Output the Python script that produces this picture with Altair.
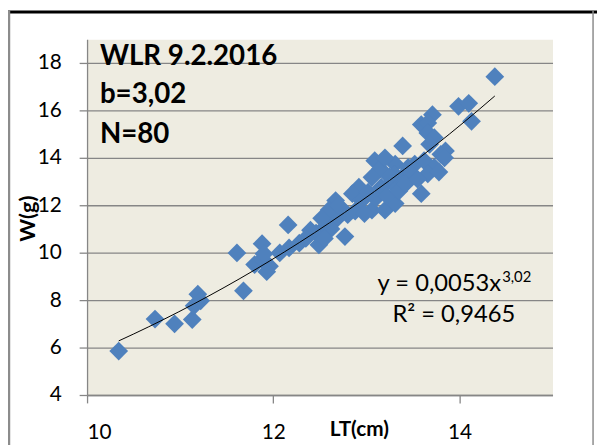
import altair as alt
import pandas as pd

# Data (LT in cm, W in g)
lt = [10.34, 10.73, 10.94, 11.13, 11.19, 11.15, 11.22, 11.61, 11.68, 11.88,
      11.80, 11.88, 11.96, 12.07, 12.16, 12.17, 12.28, 12.49, 12.46, 12.56,
      12.67, 12.74, 12.67, 12.77, 11.93, 13.39, 13.09, 13.15, 13.31, 13.06,
      12.92, 12.85, 12.60, 13.16, 13.27, 13.38, 13.45, 13.06, 13.20, 13.31,
      13.59, 13.59, 14.38, 13.99, 14.10, 14.13, 13.71, 13.66, 13.66, 13.73,
      13.68, 13.85, 13.52, 13.62, 13.73, 13.80, 13.48, 13.66, 13.30, 12.40,
      12.52, 12.62, 12.70, 12.80, 12.88, 12.95, 12.98, 13.02, 13.10, 13.22,
      13.25, 13.35, 13.42, 13.55, 13.78, 13.84, 13.20, 12.35, 12.55, 11.90]
w = [5.85, 7.20, 7.00, 7.18, 8.25, 7.76, 7.97, 9.99, 8.39, 10.38,
     9.50, 9.71, 9.43, 9.99, 11.17, 10.20, 10.40, 10.33, 10.82, 11.10,
     12.20, 11.80, 11.38, 10.68, 9.20, 14.50, 13.88, 13.53, 13.73, 13.18,
     12.76, 12.49, 11.80, 12.76, 12.97, 13.18, 13.60, 11.79, 11.79, 12.07,
     12.49, 15.40, 17.42, 16.17, 16.30, 15.54, 15.82, 15.47, 15.05, 14.85,
     14.57, 14.29, 13.73, 13.88, 13.60, 14.15, 13.32, 13.32, 13.30, 10.95,
     11.45, 11.00, 12.00, 11.60, 11.75, 12.20, 11.65, 12.55, 12.30, 12.40,
     13.20, 12.60, 12.90, 13.10, 13.40, 14.00, 14.00, 10.60, 10.60, 9.95]

y_ticks = [4, 6, 8, 10, 12, 14, 16, 18]
x_ticks = [10, 12, 14]

title_lines = ["WLR 9.2.2016", "b=3,02", "N=80"]
eq_main = "y = 0,0053x"
eq_sup = "3,02"
r2_text = "R\u00b2 = 0,9465"

FONT = "Lato"
df = pd.DataFrame({"LT": lt, "W": w})
one = pd.DataFrame({"k": [0]})

xenc = alt.X("LT:Q", scale=alt.Scale(domain=[10, 15], nice=False),
             axis=alt.Axis(values=x_ticks, format="d", grid=False, title="LT(cm)",
                           labelFontSize=21, labelPadding=19, tickSize=8,
                           titleFontSize=21, titleFontWeight="bold",
                           titleX=275, titleY=41, titleBaseline="alphabetic",
                           titleAlign="center"))
yenc = alt.Y("W:Q", scale=alt.Scale(domain=[4, 19], nice=False),
             axis=alt.Axis(values=y_ticks, format="d", grid=True, title="W(g)",
                           labelFontSize=21, labelPadding=18, tickSize=8,
                           titleFontSize=22, titleFontWeight="bold",
                           titleX=-60, titleY=181, titleAlign="center",
                           titleBaseline="middle", titleAngle=270))

points = alt.Chart(df).mark_point(shape="diamond", filled=True, size=360,
                                  color="#4F81BD", opacity=1).encode(x=xenc, y=yenc)

trend = alt.Chart(df).transform_regression("LT", "W", method="pow").mark_line(
    color="black", strokeWidth=1).encode(x="LT:Q", y="W:Q")

def txt(s, x, y, size, weight="normal"):
    return alt.Chart(one).mark_text(align="left", baseline="alphabetic", font=FONT,
                                    fontSize=size, fontWeight=weight, color="black").encode(
        x=alt.value(x), y=alt.value(y), text=alt.value(s))

texts = [
    txt(title_lines[0], 13, 26, 28, "bold"),
    txt(title_lines[1], 13, 65, 28, "bold"),
    txt(title_lines[2], 13, 105, 28, "bold"),
    txt(eq_main, 294, 255, 24),
    txt(eq_sup, 420, 246, 15),
    txt(r2_text, 309, 286, 24),
]

def rule(x, x2, y, y2, color, sw):
    return alt.Chart(one).mark_rule(color=color, strokeWidth=sw).encode(
        x=alt.value(x), x2=alt.value(x2), y=alt.value(y), y2=alt.value(y2))

borders = [
    rule(-80, 516, -27.5, -27.5, "black", 3),
    rule(-79, -79, -29, 419, "#8c8c8c", 2.5),
    rule(512, 512, -29, 419, "#8c8c8c", 1.5),
]

chart = alt.layer(points, trend, *texts, *borders).properties(
    width=471, height=360,
    autosize=alt.AutoSizeParams(type="none"),
    padding={"left": 80, "top": 29, "right": 45, "bottom": 48},
    background="white",
).configure_view(fill="#EEECE1", stroke="transparent").configure_axis(
    labelFont=FONT, titleFont=FONT, labelColor="black", titleColor="black",
    gridColor="#868686", gridWidth=1.3, domainColor="#868686", tickColor="#868686",
    domainWidth=1.3, tickWidth=1.3,
)

chart.save("out.html", embed_options={"renderer": "svg", "actions": False})
